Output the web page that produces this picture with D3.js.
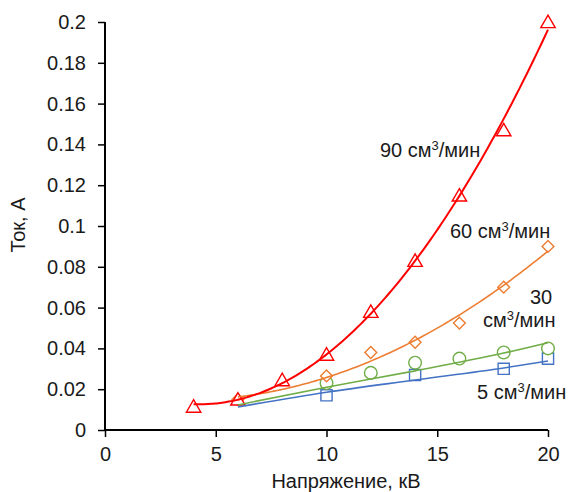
<!DOCTYPE html>
<html><head><meta charset="utf-8">
<script src="https://cdn.jsdelivr.net/npm/d3@7/dist/d3.min.js"></script>
<style>
html,body{margin:0;padding:0;background:#fff;}
text{font-family:"Liberation Sans",Arial,sans-serif;}
</style></head>
<body><svg id="c" width="572" height="492"></svg>
<script>
// ---- data ----
const xTicks = [0, 5, 10, 15, 20];
const yTicks = [0, 0.02, 0.04, 0.06, 0.08, 0.1, 0.12, 0.14, 0.16, 0.18, 0.2];
const yTickLabels = ["0","0.02","0.04","0.06","0.08","0.1","0.12","0.14","0.16","0.18","0.2"];

// measured points
const x5  = [10, 14, 18, 20];
const y5  = [0.017, 0.027, 0.030, 0.035];
const x30 = [10, 12, 14, 16, 18, 20];
const y30 = [0.023, 0.028, 0.033, 0.035, 0.038, 0.040];
const x60 = [6, 10, 12, 14, 16, 18, 20];
const y60 = [0.015, 0.0265, 0.038, 0.043, 0.0524, 0.070, 0.090];
const x90 = [4, 6, 8, 10, 12, 14, 16, 18, 20];
const y90 = [0.0115, 0.015, 0.0245, 0.037, 0.058, 0.083, 0.115, 0.147, 0.200];

// trend lines for 5 and 30 (they start at 6 kV)
const trend5X  = [6, 10, 14, 18, 20];
const trend5Y  = [0.0113, 0.0185, 0.0245, 0.0304, 0.0338];
const trend30X = [6, 10, 14, 18, 20];
const trend30Y = [0.0123, 0.021, 0.029, 0.0377, 0.0428];

const seriesNames = ["5 см³/мин", "30 см³/мин", "60 см³/мин", "90 см³/мин"];
const xTitle = "Напряжение, кВ";
const yTitle = "Ток, А";

// ---- setup ----
const svg = d3.select("#c");
const x = d3.scaleLinear().domain([0, 20]).range([105, 548]);
const y = d3.scaleLinear().domain([0, 0.2]).range([430, 22]);
const textColor = "#1a1a1a";
const FS = "20px";

// polynomial least squares
function polyfit(xs, ys, deg) {
  const n = deg + 1;
  const A = Array.from({length: n}, () => new Array(n + 1).fill(0));
  for (let i = 0; i < xs.length; i++) {
    for (let r = 0; r < n; r++) {
      for (let c = 0; c < n; c++) A[r][c] += Math.pow(xs[i], r + c);
      A[r][n] += ys[i] * Math.pow(xs[i], r);
    }
  }
  for (let i = 0; i < n; i++) {
    let m = i;
    for (let k = i + 1; k < n; k++) if (Math.abs(A[k][i]) > Math.abs(A[m][i])) m = k;
    [A[i], A[m]] = [A[m], A[i]];
    for (let k = i + 1; k < n; k++) {
      const f = A[k][i] / A[i][i];
      for (let j = i; j <= n; j++) A[k][j] -= f * A[i][j];
    }
  }
  const coef = new Array(n).fill(0);
  for (let i = n - 1; i >= 0; i--) {
    let s = A[i][n];
    for (let j = i + 1; j < n; j++) s -= A[i][j] * coef[j];
    coef[i] = s / A[i][i];
  }
  return coef;
}
function fitLine(xs, ys, deg) {
  const c = polyfit(xs, ys, deg);
  const x0 = d3.min(xs), x1 = d3.max(xs);
  return d3.range(0, 101).map(i => {
    const xv = x0 + (x1 - x0) * i / 100;
    return [xv, c.reduce((s, k, p) => s + k * Math.pow(xv, p), 0)];
  });
}
const zip = (a, b) => a.map((v, i) => [v, b[i]]);

const diamond = {draw(ctx, size) { const r = Math.sqrt(size / 2);
  ctx.moveTo(0, -r); ctx.lineTo(r, 0); ctx.lineTo(0, r); ctx.lineTo(-r, 0); ctx.closePath(); }};

const series = [
  {xs: x5,  ys: y5,  color: "#4472C4", sym: d3.symbol().type(d3.symbolSquare).size(125), dy: 0,
   trend: zip(trend5X, trend5Y), lw: 1.6},
  {xs: x30, ys: y30, color: "#70AD47", sym: d3.symbol().type(d3.symbolCircle).size(125), dy: 0,
   trend: zip(trend30X, trend30Y), lw: 1.6},
  {xs: x60, ys: y60, color: "#ED7D31", sym: d3.symbol().type(diamond).size(70), dy: 0,
   trend: fitLine(x60, y60, 2), lw: 1.6},
  {xs: x90, ys: y90, color: "#FF0000", sym: d3.symbol().type(d3.symbolTriangle).size(90), dy: 1.5,
   trend: fitLine(x90, y90, 2), lw: 2}
];

// ---- axes ----
const gy = svg.append("g").attr("transform", `translate(${x(0)},0)`)
  .call(d3.axisLeft(y).tickValues(yTicks).tickSize(7).tickPadding(12)
    .tickFormat((d, i) => yTickLabels[i]));
const gx = svg.append("g").attr("transform", `translate(0,${y(0)})`)
  .call(d3.axisBottom(x).tickValues(xTicks).tickSize(7).tickPadding(10)
    .tickFormat(d3.format("d")));
[gx, gy].forEach(g => {
  g.select(".domain").attr("stroke", "#000").attr("stroke-width", 2);
  g.selectAll(".tick line").attr("stroke", "#000").attr("stroke-width", 1.5);
  g.selectAll(".tick text").attr("fill", textColor).style("font-size", FS)
    .style("font-family", '"Liberation Sans", Arial, sans-serif');
});
gx.select(".domain").attr("d", `M${x(0)},0H${x(20)}`);
gy.select(".domain").attr("d", `M0,${y(0)}V${y(0.2)}`);

// ---- markers ----
series.forEach(s => {
  svg.append("g").selectAll("path").data(zip(s.xs, s.ys))
    .join("path")
    .attr("d", s.sym)
    .attr("transform", d => `translate(${x(d[0])},${y(d[1]) + s.dy})`)
    .attr("fill", "#fff").attr("stroke", s.color).attr("stroke-width", 1.4);
});

// ---- trendlines ----
const line = d3.line().x(d => x(d[0])).y(d => y(d[1])).curve(d3.curveMonotoneX);
series.forEach(s => {
  svg.append("path").datum(s.trend)
    .attr("d", line).attr("fill", "none").attr("stroke", s.color).attr("stroke-width", s.lw);
});

// ---- labels ----
function label(xp, yp, parts) {
  const t = svg.append("text").attr("x", xp).attr("y", yp).attr("fill", textColor)
    .style("font-size", FS);
  parts.forEach(p => {
    if (p.sup) t.append("tspan").attr("dy", -7).style("font-size", "13px").text(p.t);
    else t.append("tspan").attr("dy", p.back ? 7 : 0).text(p.t);
  });
}
function splitName(name) {
  const i = name.indexOf("³");
  return [{t: name.slice(0, i)}, {t: "3", sup: true}, {t: name.slice(i + 1), back: true}];
}
label(380, 157, splitName(seriesNames[3]));
label(450, 238, splitName(seriesNames[2]));
const n30 = seriesNames[1].split(" ");
label(530, 304, [{t: n30[0]}]);
label(483, 327, splitName(n30[1]));
label(477, 399, splitName(seriesNames[0]));

// ---- titles ----
svg.append("text").attr("x", 346).attr("y", 488).attr("text-anchor", "middle")
  .attr("fill", textColor).style("font-size", FS).text(xTitle);
svg.append("text").attr("transform", "translate(25,225) rotate(-90)").attr("text-anchor", "middle")
  .attr("fill", textColor).style("font-size", FS).text(yTitle);
</script></body></html>
